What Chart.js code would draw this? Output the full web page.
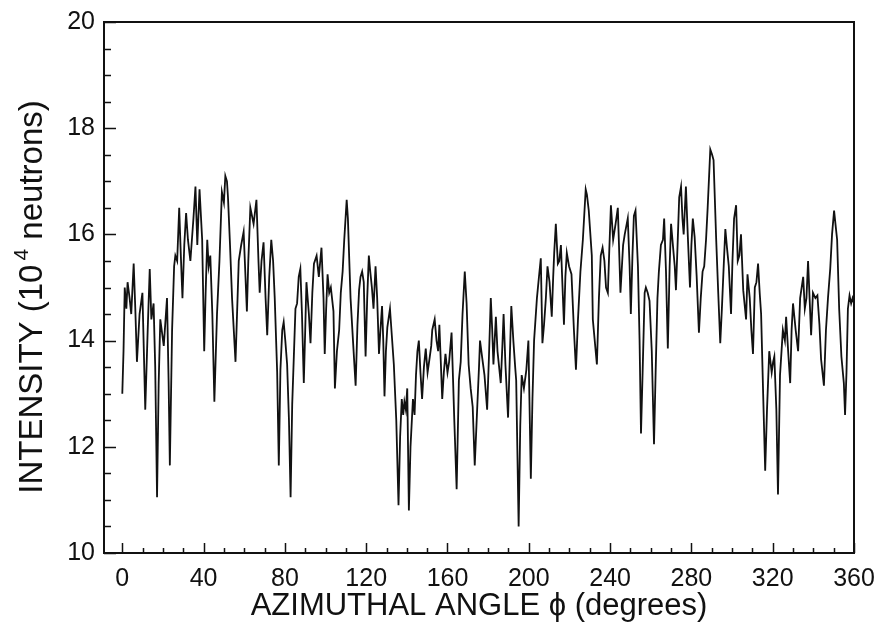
<!DOCTYPE html>
<html>
<head>
<meta charset="utf-8">
<script src="https://cdn.jsdelivr.net/npm/chart.js@4.4.1/dist/chart.umd.min.js"></script>
<style>
    html, body { margin: 0; padding: 0; background: #fff; }
    canvas { display: block; }
</style>
</head>
<body>
<canvas id="intensity-chart" width="881" height="622"></canvas>
<script>
// azimuthal angle (degrees) and measured intensity (10^4 neutrons)
const angles = [
    0, 0.6, 1.2, 2.0, 2.6, 3.6, 4.4, 5.6, 6.4, 7.2,
    8.5, 9.9, 11.3, 12.5, 13.5, 14.3, 15.4, 16.2, 17.1, 17.9,
    18.7, 20.4, 22.0, 22.8, 23.4, 24.5, 25.5, 26.1, 27.0, 28.0,
    28.8, 29.6, 30.5, 31.4, 32.3, 33.5, 35.0, 36.0, 36.9, 38.0,
    39.3, 40.3, 41.0, 41.8, 42.5, 43.3, 44.3, 45.3, 46.6, 47.8,
    49.0, 50.0, 50.7, 51.5, 52.0, 53.0, 54.0, 55.7, 57.3, 58.5,
    59.7, 60.5, 61.3, 62.0, 63.0, 64.6, 66.0, 67.0, 67.6, 68.5,
    69.5, 70.5, 71.3, 72.3, 73.3, 74.2, 75.0, 76.2, 77.0, 77.8,
    78.7, 79.4, 80.2, 81.1, 82.0, 82.8, 83.6, 84.4, 85.2, 86.0,
    86.8, 87.6, 88.4, 89.3, 90.0, 90.6, 91.8, 92.6, 93.5, 94.3,
    95.6, 96.7, 98.0, 99.0, 99.6, 100.3, 101.0, 101.8, 102.6, 103.9,
    104.6, 105.6, 106.7, 107.5, 108.4, 109.2, 110.0, 110.4, 111.0, 111.6,
    112.3, 113.5, 114.8, 115.7, 116.5, 117.2, 118.0, 118.8, 119.7, 120.5,
    121.3, 122.0, 122.8, 123.6, 124.6, 125.4, 126.3, 127.0, 127.8, 128.4,
    129.0, 129.7, 130.4, 131.7, 132.6, 133.6, 134.8, 135.9, 136.7, 137.5,
    138.2, 138.8, 139.5, 140.2, 141.0, 141.8, 143.0, 143.8, 144.5, 145.2,
    145.9, 146.7, 147.5, 148.4, 149.3, 150.2, 151.3, 152.0, 152.5, 153.7,
    154.6, 155.4, 156.0, 156.7, 157.4, 158.2, 159.0, 160.0, 160.8, 162.0,
    162.7, 163.3, 164.5, 165.6, 166.5, 167.4, 168.5, 169.4, 170.4, 171.4,
    172.4, 173.4, 174.7, 175.5, 176.0, 177.0, 178.2, 179.5, 180.4, 181.3,
    182.0, 182.6, 183.8, 184.6, 185.4, 186.2, 187.0, 187.6, 188.5, 189.8,
    190.6, 191.4, 192.4, 193.3, 193.8, 195.0, 195.8, 196.5, 197.6, 198.8,
    199.8, 201.0, 201.8, 202.6, 204.0, 205.0, 205.9, 206.7, 207.5, 208.4,
    209.2, 210.2, 211.3, 212.0, 212.5, 213.3, 214.3, 215.0, 215.8, 217.3,
    218.0, 218.7, 219.8, 221.0, 222.2, 223.2, 224.2, 225.4, 226.6, 228.0,
    228.6, 229.5, 231.0, 231.5, 233.5, 234.5, 235.4, 236.3, 237.2, 238.0,
    238.9, 239.6, 240.4, 241.5, 242.7, 243.8, 245.1, 246.4, 247.2, 248.7,
    249.6, 250.2, 251.0, 251.7, 252.5, 253.7, 254.5, 255.2, 256.0, 257.0,
    257.6, 258.5, 259.4, 260.5, 261.6, 262.4, 263.3, 264.0, 265.0, 266.0,
    266.6, 267.5, 268.4, 269.3, 270.0, 271.0, 271.8, 272.4, 273.2, 274.0,
    274.9, 275.6, 276.2, 277.3, 278.2, 279.3, 280.0, 280.7, 281.6, 282.6,
    283.7, 284.6, 285.5, 286.3, 287.2, 288.0, 289.3, 290.2, 290.9, 292.2,
    293.2, 294.2, 295.0, 296.0, 296.7, 297.5, 298.4, 299.5, 300.2, 301.0,
    302.0, 302.8, 303.6, 304.4, 305.5, 306.9, 307.6, 308.7, 309.5, 310.3,
    311.2, 312.0, 312.8, 313.6, 314.3, 315.3, 316.3, 317.2, 318.3, 319.5,
    320.2, 320.8, 321.8, 322.6, 323.6, 325.0, 326.0, 326.6, 327.6, 328.6,
    329.3, 330.0, 331.3, 332.5, 333.5, 335.0, 335.8, 336.6, 337.4, 338.9,
    339.8, 341.0, 342.0, 343.0, 343.8, 345.2, 346.2, 347.2, 348.3, 349.2,
    350.2, 351.0, 351.7, 352.7, 353.8, 355.0, 355.6, 356.3, 357.0, 357.8,
    358.6, 359.3, 360.0
];

const intensity = [
    13.0, 13.8, 15.0, 14.6, 15.1, 14.8, 14.5, 15.45, 14.6, 13.6,
    14.5, 14.9, 12.7, 14.2, 15.35, 14.4, 14.7, 13.5, 11.05, 13.2,
    14.4, 13.9, 14.8, 13.2, 11.65, 14.2, 15.4, 15.6, 15.5, 16.5,
    15.6, 14.8, 15.8, 16.4, 15.9, 15.5, 16.3, 16.9, 15.8, 16.85,
    15.9, 13.8, 14.9, 15.9, 15.4, 15.6, 14.5, 12.85, 14.5, 15.5,
    16.8, 16.6, 17.1, 17.0, 16.7, 15.8, 14.8, 13.6, 15.5, 15.8,
    16.05, 15.3, 14.55, 15.5, 16.5, 16.2, 16.65, 15.5, 14.9, 15.5,
    15.85, 14.8, 14.1, 15.2, 15.9, 15.5, 14.8, 13.4, 11.65, 13.45,
    14.2, 14.35, 14.0, 13.55, 12.5, 11.05, 12.8, 13.7, 14.6, 14.7,
    15.2, 15.35, 14.5, 13.2, 14.2, 15.1, 14.5, 13.95, 14.9, 15.45,
    15.6, 15.2, 15.75, 14.8, 13.75, 14.6, 15.25, 14.9, 15.0, 14.55,
    13.1, 13.8, 14.2, 14.9, 15.3, 15.9, 16.4, 16.65, 16.3, 15.6,
    14.8, 14.0, 13.15, 14.3, 14.95, 15.2, 15.3, 15.1, 13.7, 14.8,
    15.6, 15.3, 15.0, 14.6, 15.4, 14.8, 13.75, 14.2, 14.65, 14.0,
    12.95, 13.8, 14.25, 14.6, 14.1, 13.55, 12.5, 10.9, 12.2, 12.9,
    12.6, 12.85, 12.7, 13.1, 10.8, 12.0, 12.9, 12.6, 13.35, 13.8,
    14.0, 13.4, 12.9, 13.5, 13.85, 13.4, 13.7, 13.9, 14.2, 14.4,
    14.0, 13.8, 14.3, 13.6, 12.9, 13.4, 13.75, 13.4, 13.6, 14.15,
    13.3, 12.55, 11.2, 13.25, 13.6, 14.5, 15.3, 14.7, 13.55, 13.1,
    12.75, 11.65, 12.8, 13.5, 14.0, 13.7, 13.35, 12.7, 13.7, 14.8,
    14.2, 13.55, 14.45, 13.8, 13.5, 13.2, 13.9, 14.5, 13.55, 12.55,
    13.6, 14.65, 14.0, 13.5, 13.25, 10.5, 12.4, 13.35, 13.1, 13.45,
    14.0, 11.4, 12.9, 14.0, 14.8, 15.2, 15.55, 13.95, 14.3, 14.8,
    15.4, 15.1, 14.45, 15.2, 15.65, 16.2, 15.45, 15.5, 15.8, 14.3,
    15.2, 15.65, 15.4, 15.25, 14.2, 13.45, 14.4, 15.3, 15.9, 16.85,
    16.75, 16.45, 15.6, 14.4, 13.55, 14.8, 15.6, 15.75, 15.5, 15.0,
    14.9, 15.7, 16.55, 15.9, 16.2, 16.5, 14.9, 15.8, 16.0, 16.3,
    15.4, 14.5, 15.6, 16.35, 16.45, 15.4, 14.0, 12.25, 13.4, 14.9,
    15.0, 14.9, 14.75, 13.8, 12.05, 13.4, 14.8, 15.3, 15.8, 15.9,
    16.3, 15.3, 13.85, 15.4, 16.2, 15.75, 15.4, 14.95, 15.8, 16.7,
    16.9, 16.3, 16.0, 16.9, 16.0, 15.0, 15.8, 16.3, 15.95, 15.2,
    14.15, 14.8, 15.3, 15.4, 15.9, 16.5, 17.6, 17.5, 17.4, 15.9,
    14.9, 13.95, 14.6, 15.5, 16.1, 15.75, 15.4, 14.5, 15.5, 16.3,
    16.55, 15.5, 15.6, 16.0, 14.95, 14.4, 15.25, 14.8, 14.2, 13.75,
    15.0, 15.1, 15.45, 14.9, 14.5, 13.0, 11.55, 12.7, 13.8, 13.4,
    13.6, 13.7, 12.7, 11.1, 13.35, 14.2, 14.0, 14.45, 13.8, 13.2,
    14.2, 14.7, 14.2, 13.8, 14.8, 15.2, 14.6, 14.8, 15.5, 14.1,
    14.9, 14.8, 14.85, 14.3, 13.65, 13.15, 14.2, 14.8, 15.35, 16.0,
    16.45, 16.15, 15.9, 14.6, 13.7, 13.2, 12.6, 13.4, 14.6, 14.85,
    14.7, 14.8, 14.7
];

const xTickValues = [0, 40, 80, 120, 160, 200, 240, 280, 320, 360];
const yTickValues = [10, 12, 14, 16, 18, 20];

const FONT = "'Liberation Sans', Arial, Helvetica, sans-serif";
const INK = '#111';

// box round the plot plus inward tick marks (majors long, minors short)
const frameTicks = {
    id: 'frameTicks',
    afterDatasetsDraw(chart) {
        const { ctx, chartArea: a, scales: { x, y } } = chart;
        ctx.save();
        ctx.strokeStyle = INK;
        ctx.lineWidth = 2;
        ctx.strokeRect(a.left, a.top, a.right - a.left, a.bottom - a.top);

        ctx.lineWidth = 1.5;
        ctx.beginPath();
        for (let v = 10; v <= 20; v += 0.5) {
            const py = Math.round(y.getPixelForValue(v)) + 0.5;
            const len = yTickValues.includes(v) ? 12 : 7;
            ctx.moveTo(a.left, py);
            ctx.lineTo(a.left + len, py);
        }
        for (let v = 0; v <= 360; v += 10) {
            const px = Math.round(x.getPixelForValue(v)) + 0.5;
            const len = xTickValues.includes(v) ? 10 : 5;
            ctx.moveTo(px, a.bottom);
            ctx.lineTo(px, a.bottom - len);
        }
        ctx.stroke();
        ctx.restore();
    }
};

// rotated y title, the exponent on 10 drawn smaller and raised
const yTitle = {
    id: 'yTitle',
    afterDraw(chart) {
        const { ctx } = chart;
        const big = '33px ' + FONT;
        const small = '21px ' + FONT;
        const head = 'INTENSITY (10', sup = '4', tail = ' neutrons)';
        ctx.save();
        ctx.fillStyle = INK;
        ctx.textBaseline = 'middle';
        ctx.font = big;
        const w1 = ctx.measureText(head).width;
        const w3 = ctx.measureText(tail).width;
        ctx.font = small;
        const w2 = ctx.measureText(sup).width + 4;
        const total = w1 + w2 + w3;
        ctx.translate(33, 297);
        ctx.rotate(-Math.PI / 2);
        let pos = -total / 2;
        ctx.font = big;
        ctx.fillText(head, pos, 0);
        pos += w1 + 4;
        ctx.font = small;
        ctx.fillText(sup, pos, -11);
        pos += w2 - 4;
        ctx.font = big;
        ctx.fillText(tail, pos, 0);
        ctx.restore();
    }
};

const ctx = document.getElementById('intensity-chart').getContext('2d');

new Chart(ctx, {
    type: 'line',
    data: {
        datasets: [{
            data: angles.map((a, i) => ({ x: a, y: intensity[i] })),
            borderColor: INK,
            borderWidth: 1.8,
            pointRadius: 0,
            tension: 0,
            fill: false
        }]
    },
    options: {
        responsive: false,
        animation: false,
        devicePixelRatio: 1,
        layout: {
            padding: { top: 22, right: 27, bottom: 0, left: 0 }
        },
        plugins: {
            legend: { display: false },
            tooltip: { enabled: false }
        },
        scales: {
            x: {
                type: 'linear',
                min: -9,
                max: 360,
                grid: { display: false, drawTicks: false },
                border: { display: false },
                afterBuildTicks: scale => {
                    scale.ticks = xTickValues.map(v => ({ value: v }));
                },
                afterFit: scale => {
                    scale.height = 69;
                    scale.paddingLeft = 0;
                    scale.paddingRight = 0;
                },
                ticks: {
                    color: INK,
                    padding: 11,
                    maxRotation: 0,
                    font: { family: FONT, size: 25 }
                },
                title: {
                    display: true,
                    text: 'AZIMUTHAL ANGLE \u03D5 (degrees)',
                    color: INK,
                    font: { family: FONT, size: 31 },
                    padding: { top: 0, bottom: -3 }
                }
            },
            y: {
                type: 'linear',
                min: 10,
                max: 20,
                grid: { display: false, drawTicks: false },
                border: { display: false },
                afterBuildTicks: scale => {
                    scale.ticks = yTickValues.map(v => ({ value: v }));
                },
                afterFit: scale => {
                    scale.width = 104;
                    scale.paddingTop = 0;
                    scale.paddingBottom = 0;
                },
                ticks: {
                    color: INK,
                    padding: 9,
                    font: { family: FONT, size: 25 }
                }
            }
        }
    },
    plugins: [frameTicks, yTitle]
});
</script>
</body>
</html>
